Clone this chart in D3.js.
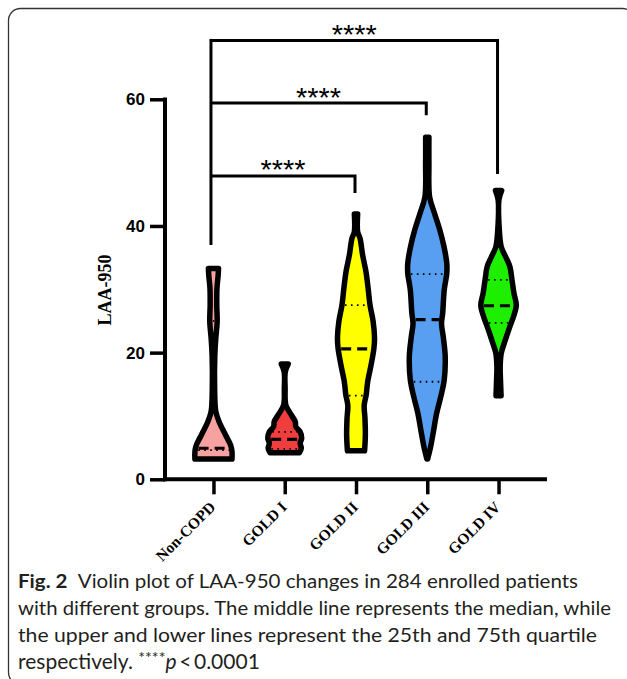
<!DOCTYPE html>
<html>
<head>
<meta charset="utf-8">
<script src="https://cdn.jsdelivr.net/npm/d3@7"></script>
<style>
  body { margin: 0; background: #fff; }
  svg { display: block; }
</style>
</head>
<body>
<div id="graph-area"></div>
<script>
// groups shown on the x axis
var categories = ["Non-COPD", "GOLD I", "GOLD II", "GOLD III", "GOLD IV"];
var fillColors = ["#F7A1A1", "#F03E3E", "#FFFF00", "#589FF2", "#1EEE00"];

// violin outlines: LAA-950 value and relative density (half width)
var nonCopdValues = [3.2, 4.4, 5.4, 7.0, 9.1, 10.7, 14.4, 19.6, 22.3, 24.9, 27.5, 30.2, 32.2, 33.3];
var nonCopdDensity = [0.95, 0.95, 0.88, 0.62, 0.29, 0.12, 0.06, 0.07, 0.12, 0.19, 0.17, 0.18, 0.24, 0.26];

var gold1Values = [4.2, 4.9, 5.7, 6.5, 7.5, 8.3, 9.1, 10.2, 11.7, 14.4, 17.0, 18.2];
var gold1Density = [0.75, 0.85, 0.79, 0.87, 0.79, 0.57, 0.54, 0.33, 0.06, 0.02, 0.03, 0.18];

var gold2Values = [4.5, 7.0, 9.6, 11.7, 13.3, 15.4, 18.0, 20.7, 22.3, 24.9, 27.5, 30.2, 32.8, 35.4, 38.0, 39.1, 41.9];
var gold2Density = [0.44, 0.48, 0.46, 0.42, 0.52, 0.60, 0.77, 0.92, 0.95, 0.88, 0.72, 0.62, 0.51, 0.34, 0.21, 0.085, 0.085];

var gold3Values = [3.2, 5.1, 7.8, 10.4, 13.0, 15.7, 19.4, 22.5, 24.6, 26.2, 29.9, 32.5, 34.1, 36.7, 39.4, 42.0, 44.6, 49.9, 54.0];
var gold3Density = [0.02, 0.17, 0.33, 0.48, 0.69, 0.87, 0.92, 0.82, 0.73, 0.79, 0.87, 1.0, 1.0, 0.86, 0.64, 0.37, 0.12, 0.085, 0.085];

var gold4Values = [13.2, 15.7, 17.8, 19.9, 22.0, 24.1, 25.7, 27.5, 29.4, 31.5, 33.6, 35.1, 36.7, 39.4, 44.1, 45.6];
var gold4Density = [0.13, 0.10, 0.085, 0.14, 0.35, 0.58, 0.77, 0.91, 0.79, 0.69, 0.58, 0.37, 0.14, 0.04, 0.02, 0.16];

// summary lines drawn inside each violin
var medians = [4.9, 6.3, 20.6, 25.2, 27.4];
var lowerQuartiles = [4.6, 4.8, 13.2, 15.4, 24.7];
var upperQuartiles = [25.0, 7.5, 27.5, 32.4, 31.5];

// y axis
var yTicks = [0, 20, 40, 60];
var yLabel = "LAA-950";

// significance brackets: from group, to group, label
var compareFrom = [0, 0, 0];
var compareTo = [2, 3, 4];
var compareLabels = ["****", "****", "****"];

var captionLines = [
  "Violin plot of LAA-950 changes in 284 enrolled patients",
  "with different groups. The middle line represents the median, while",
  "the upper and lower lines represent the 25th and 75th quartile",
  "respectively. "
];

var groupValues = [nonCopdValues, gold1Values, gold2Values, gold3Values, gold4Values];
var groupDensity = [nonCopdDensity, gold1Density, gold2Density, gold3Density, gold4Density];

var width = 627;
var height = 679;

var svg = d3.select('#graph-area')
  .append('svg')
  .attr('width', width)
  .attr('height', height);

// rounded frame, partly cut off by the picture edge
svg.append('rect')
  .attr('x', 8.5)
  .attr('y', 8.5)
  .attr('width', 626)
  .attr('height', 676)
  .attr('rx', 12)
  .attr('fill', 'none')
  .attr('stroke', '#333')
  .attr('stroke-width', 1.3);

var y = d3.scaleLinear().domain([0, 60]).range([479.3, 99.3]);
var x = d3.scalePoint().domain(categories).range([165, 547]).padding(0.68);
var w = d3.scaleLinear().domain([0, 1]).range([0, 19.5]);

// violins
var violins = categories.map(function(c, i){
  return {
    name: c,
    color: fillColors[i],
    points: groupValues[i].map(function(v, j){ return {v: v, d: groupDensity[i][j]}; }),
    median: medians[i],
    q1: lowerQuartiles[i],
    q3: upperQuartiles[i]
  };
});

function halfWidthAt(points, v){
  for(var j = 0; j < points.length - 1; j++){
    var a = points[j], b = points[j+1];
    if(v >= a.v && v <= b.v){
      var t = (v - a.v) / (b.v - a.v);
      return w(a.d + t * (b.d - a.d));
    }
  }
  return 0;
}

var vg = svg.selectAll('.violin')
  .data(violins)
  .enter().append('g')
  .attr('class', 'violin');

vg.append('path')
  .attr('d', function(d){
    var cx = x(d.name);
    return d3.area()
      .curve(d3.curveCatmullRom.alpha(0.5))
      .y(function(p){ return y(p.v); })
      .x0(function(p){ return cx - w(p.d); })
      .x1(function(p){ return cx + w(p.d); })(d.points);
  })
  .attr('fill', function(d){ return d.color; })
  .attr('stroke', '#000')
  .attr('stroke-width', 5.5)
  .attr('stroke-linejoin', 'round');

function statLine(key, dash, sw){
  vg.append('line')
    .attr('x1', function(d){ return x(d.name) - Math.max(halfWidthAt(d.points, d[key]) - 3, 0); })
    .attr('x2', function(d){ return x(d.name) + Math.max(halfWidthAt(d.points, d[key]) - 3, 0); })
    .attr('y1', function(d){ return y(d[key]); })
    .attr('y2', function(d){ return y(d[key]); })
    .attr('stroke', '#000')
    .attr('stroke-width', sw)
    .attr('stroke-dasharray', dash);
}
statLine('q1', '1.6,4.4', 1.8);
statLine('q3', '1.6,4.4', 1.8);
statLine('median', '10,6', 3.2);

// axes
var yAxis = svg.append('g')
  .attr('transform', 'translate(165,0)')
  .call(d3.axisLeft(y).tickValues(yTicks).tickSize(15).tickSizeOuter(0).tickPadding(5));
var xAxis = svg.append('g')
  .attr('transform', 'translate(0,479.3)')
  .call(d3.axisBottom(x).tickSize(15).tickSizeOuter(0).tickFormat(''));

[yAxis, xAxis].forEach(function(a){
  a.select('.domain').attr('stroke-width', 4).attr('stroke', '#000');
  a.selectAll('.tick line').attr('stroke-width', 3.5).attr('stroke', '#000');
});
yAxis.select('.domain').attr('d', 'M0,481.3V97.5');
xAxis.select('.domain').attr('d', 'M163,0H547');

yAxis.selectAll('.tick text')
  .attr('font-family', 'Liberation Sans, Arial, sans-serif')
  .attr('font-weight', 'bold')
  .attr('font-size', 17)
  .attr('fill', '#000');

svg.append('text')
  .attr('transform', 'translate(111,290) rotate(-90)')
  .attr('text-anchor', 'middle')
  .attr('font-family', 'Liberation Serif, Times New Roman, serif')
  .attr('font-weight', 'bold')
  .attr('font-size', 18)
  .text(yLabel);

svg.selectAll('.cat-label')
  .data(categories)
  .enter().append('text')
  .attr('class', 'cat-label')
  .attr('transform', function(d){ return 'translate(' + (x(d) + 3) + ',508) rotate(-45)'; })
  .attr('text-anchor', 'end')
  .attr('font-family', 'Liberation Serif, Times New Roman, serif')
  .attr('font-weight', 'bold')
  .attr('font-size', 15.5)
  .text(function(d){ return d; });

// significance brackets
var bracketTop = [47.9, 59.4, 69.3];
var bracketDrop = [45.2, 57.5, 48.2];
var bg = svg.append('g');
bg.append('line')
  .attr('x1', x(categories[0]) - 2.5).attr('x2', x(categories[0]) - 2.5)
  .attr('y1', y(d3.max(bracketTop)) - 1.5).attr('y2', y(37))
  .attr('stroke', '#000').attr('stroke-width', 3);
compareTo.forEach(function(t, i){
  var x0 = x(categories[compareFrom[i]]) - 2.5;
  var x1 = x(categories[t]) - 1;
  bg.append('path')
    .attr('d', 'M' + x0 + ',' + y(bracketTop[i]) + 'H' + x1 + 'V' + y(bracketDrop[i]))
    .attr('fill', 'none')
    .attr('stroke', '#000')
    .attr('stroke-width', 3);
  bg.append('text')
    .attr('x', (x0 + x1) / 2)
    .attr('y', y(bracketTop[i]) + 3.5)
    .attr('text-anchor', 'middle')
    .attr('font-family', 'Liberation Sans, Arial, sans-serif')
    .attr('font-size', 27)
    .attr('textLength', 45)
    .attr('lengthAdjust', 'spacingAndGlyphs')
    .text(compareLabels[i]);
});

// caption
var capFont = 'Lato, Noto Sans, sans-serif';
var capBase = [588, 615, 642, 669];
var capWidths = [560, 593, 579, 0];
var cap = svg.append('g').attr('font-family', capFont).attr('font-size', 19.5).attr('fill', '#231F20');
captionLines.forEach(function(line, i){
  var t = cap.append('text')
    .attr('x', 18)
    .attr('y', capBase[i]);
  if(capWidths[i]){
    t.attr('textLength', capWidths[i]).attr('lengthAdjust', 'spacingAndGlyphs');
  }
  if(i === 0){
    t.append('tspan').attr('font-weight', 'bold').text('Fig. 2');
    t.append('tspan').text('\u2002' + line);
  }else if(i === 3){
    t.attr('font-size', 21);
    t.append('tspan').text(line);
    t.append('tspan').attr('font-size', 16).attr('dy', -6).text('****');
    t.append('tspan').attr('font-style', 'italic').attr('dy', 6).text('p');
    t.append('tspan').text('\u2009<\u20090.0001');
  }else{
    t.text(line);
  }
});
</script>
</body>
</html>
